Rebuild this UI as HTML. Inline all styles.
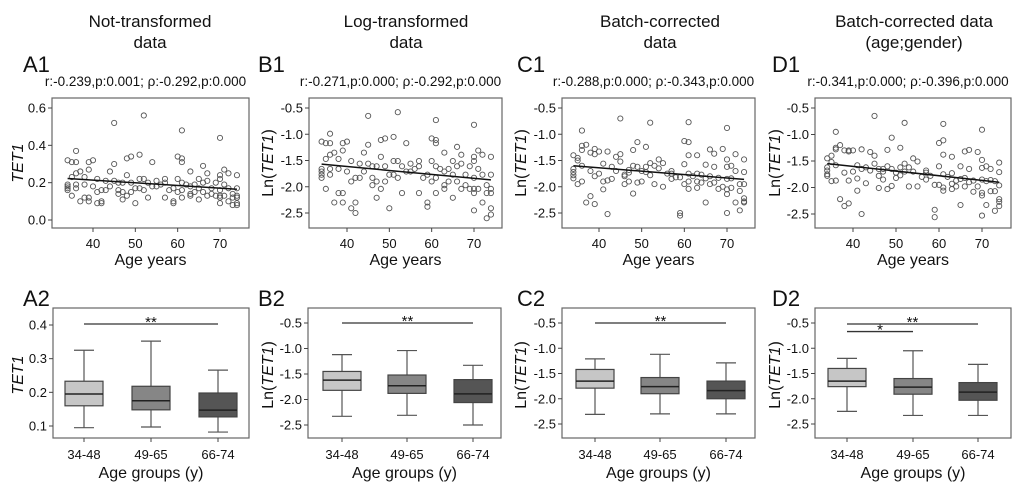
<!DOCTYPE html>
<html><head><meta charset="utf-8"><style>
body{margin:0;background:#fff;}
svg{display:block;font-family:"Liberation Sans",Arial,sans-serif;}
</style></head><body>
<svg id="fig" width="1020" height="495" viewBox="0 0 1020 495">
<g font-size="17" fill="#111" text-anchor="middle">
<text x="150" y="27">Not-transformed</text>
<text x="150" y="48">data</text>
<text x="406" y="27">Log-transformed</text>
<text x="406" y="48">data</text>
<text x="660" y="27">Batch-corrected</text>
<text x="660" y="48">data</text>
<text x="914" y="27">Batch-corrected data</text>
<text x="914" y="48">(age;gender)</text>
</g>
</svg>
<script>
const ages=[34,34,34,34,34,35,35,35,36,36,36,36,36,37,37,38,38,38,39,39,39,39,40,40,41,41,41,42,42,42,43,43,44,44,45,45,45,46,46,46,47,47,47,48,48,48,49,49,49,50,50,51,51,51,52,52,52,53,53,54,54,55,55,56,57,57,57,58,59,59,59,60,60,60,61,61,61,61,61,61,62,63,63,63,63,64,64,65,65,65,66,66,66,67,67,67,68,68,69,69,70,70,70,70,70,70,70,71,71,71,72,72,72,73,73,73,74,74,74,74,74,74];
const valsA=[.32,.18,.17,.16,.19,.31,.23,.13,.37,.31,.25,.19,.17,.26,.10,.23,.19,.12,.31,.27,.12,.10,.32,.18,.22,.15,.09,.16,.10,.09,.21,.16,.26,.18,.52,.30,.21,.20,.16,.14,.20,.15,.11,.33,.24,.13,.34,.20,.15,.17,.09,.35,.22,.17,.56,.22,.16,.20,.12,.31,.18,.21,.18,.19,.22,.20,.12,.16,.17,.10,.09,.34,.22,.15,.48,.33,.31,.20,.16,.12,.19,.26,.18,.14,.13,.19,.15,.22,.17,.11,.29,.20,.15,.25,.21,.13,.17,.14,.20,.13,.44,.24,.22,.16,.13,.12,.09,.27,.19,.13,.25,.17,.10,.14,.08,.12,.24,.17,.13,.12,.08,.09];
const valsB=[-1.14,-1.71,-1.77,-1.83,-1.66,-1.17,-1.47,-2.04,-0.99,-1.17,-1.39,-1.66,-1.77,-1.35,-2.30,-1.47,-1.66,-2.12,-1.17,-1.31,-2.12,-2.30,-1.14,-1.71,-1.51,-1.90,-2.41,-1.83,-2.30,-2.50,-1.56,-1.83,-1.35,-1.71,-0.65,-1.20,-1.56,-1.61,-1.83,-1.97,-1.61,-1.90,-2.21,-1.11,-1.43,-2.04,-1.08,-1.61,-1.90,-1.77,-2.41,-1.05,-1.51,-1.77,-0.58,-1.51,-1.83,-1.61,-2.12,-1.17,-1.71,-1.56,-1.71,-1.66,-1.51,-1.61,-2.12,-1.83,-1.77,-2.30,-2.38,-1.08,-1.51,-1.90,-0.73,-1.11,-1.17,-1.61,-1.83,-2.12,-1.66,-1.35,-1.71,-1.97,-2.04,-1.66,-1.90,-1.51,-1.77,-2.21,-1.24,-1.61,-1.90,-1.39,-1.56,-2.04,-1.77,-1.97,-1.61,-2.04,-0.82,-1.43,-1.51,-1.83,-2.04,-2.12,-2.45,-1.31,-1.66,-2.04,-1.39,-1.77,-2.30,-1.97,-2.60,-2.12,-1.43,-1.77,-2.04,-2.12,-2.53,-2.41];
const valsC=[-1.40,-1.72,-1.78,-1.84,-1.66,-1.45,-1.50,-1.95,-0.93,-1.22,-1.30,-1.60,-1.90,-1.20,-2.30,-1.35,-1.70,-2.18,-1.28,-1.38,-2.33,-1.80,-1.33,-1.75,-1.56,-1.90,-2.05,-1.33,-1.88,-2.52,-1.62,-1.85,-1.43,-1.70,-0.70,-1.38,-1.52,-1.80,-1.95,-1.77,-1.68,-1.90,-1.73,-1.30,-1.60,-2.13,-1.15,-1.62,-1.92,-1.70,-1.90,-1.24,-1.62,-1.72,-0.78,-1.55,-1.78,-1.60,-1.95,-1.48,-1.65,-1.55,-2.00,-1.75,-1.75,-1.85,-1.70,-1.82,-1.82,-2.50,-2.55,-1.13,-1.57,-1.95,-0.77,-1.15,-1.40,-1.75,-1.90,-2.04,-1.80,-1.40,-1.75,-1.90,-2.02,-1.77,-1.92,-1.58,-1.84,-2.30,-1.29,-1.80,-1.95,-1.37,-1.62,-1.92,-1.83,-2.04,-1.28,-2.00,-0.88,-1.48,-1.62,-1.85,-2.05,-2.14,-2.50,-1.60,-1.84,-2.02,-1.38,-1.70,-2.30,-1.95,-2.45,-2.08,-1.48,-1.72,-1.95,-2.22,-2.30,-2.28];
const valsD=[-1.45,-1.68,-1.75,-1.78,-1.62,-1.40,-1.52,-1.88,-0.95,-1.25,-1.28,-1.58,-1.87,-1.20,-2.22,-1.30,-1.72,-2.35,-1.30,-1.32,-2.30,-1.87,-1.30,-1.70,-1.58,-1.83,-2.06,-1.28,-1.65,-2.50,-1.62,-1.92,-1.33,-1.68,-0.65,-1.40,-1.55,-1.78,-2.01,-1.65,-1.65,-1.85,-1.70,-1.29,-1.60,-2.03,-1.06,-1.65,-1.97,-1.72,-1.82,-1.25,-1.62,-1.77,-0.78,-1.55,-1.70,-1.62,-1.98,-1.45,-1.70,-1.51,-1.98,-1.80,-1.72,-1.85,-1.68,-1.78,-1.95,-2.42,-2.56,-1.16,-1.60,-1.95,-0.80,-1.11,-1.38,-1.75,-2.00,-2.06,-1.80,-1.42,-1.73,-1.93,-2.03,-1.87,-1.98,-1.60,-1.84,-2.33,-1.32,-1.82,-1.98,-1.29,-1.65,-1.90,-1.87,-2.08,-1.33,-1.98,-0.91,-1.48,-1.63,-1.85,-2.10,-2.15,-2.53,-1.60,-1.88,-2.33,-1.65,-1.86,-2.07,-1.88,-2.44,-2.07,-1.53,-1.71,-1.96,-2.22,-2.27,-2.35];
const fitAges=[34,74];
const fitA=[0.222,0.165], fitB=[-1.57,-1.87], fitC=[-1.60,-1.86], fitD=[-1.55,-1.90];
const statsText=["r:-0.239,p:0.001; \u03c1:-0.292,p:0.000","r:-0.271,p:0.000; \u03c1:-0.292,p:0.000","r:-0.288,p:0.000; \u03c1:-0.343,p:0.000","r:-0.341,p:0.000; \u03c1:-0.396,p:0.000"];
const xTicks=[40,50,60,70];
const yTicksA=[0.0,0.2,0.4,0.6], yTicksLog=[-0.5,-1.0,-1.5,-2.0,-2.5], yTicksA2=[0.1,0.2,0.3,0.4];
const groups=['34-48','49-65','66-74'];
// each group: [min,q1,median,q3,max]
const boxA=[[.095,.16,.195,.233,.325],[.097,.148,.175,.218,.352],[.082,.127,.147,.198,.266]];
const boxB=[[-2.33,-1.82,-1.62,-1.45,-1.12],[-2.31,-1.88,-1.73,-1.52,-1.04],[-2.50,-2.06,-1.89,-1.61,-1.33]];
const boxC=[[-2.31,-1.79,-1.65,-1.42,-1.21],[-2.30,-1.90,-1.76,-1.58,-1.12],[-2.30,-2.00,-1.84,-1.65,-1.29]];
const boxD=[[-2.25,-1.76,-1.65,-1.40,-1.20],[-2.33,-1.91,-1.77,-1.60,-1.05],[-2.33,-2.03,-1.87,-1.68,-1.32]];
const sigA=[[0,2,0.403,'**']], sigB=[[0,2,-0.50,'**']], sigC=[[0,2,-0.50,'**']], sigD=[[0,2,-0.52,'**'],[0,1,-0.67,'*']];

const NS='http://www.w3.org/2000/svg';
const svg=document.getElementById('fig');
function el(tag,attrs,parent,txt){const e=document.createElementNS(NS,tag);for(const k in attrs)e.setAttribute(k,attrs[k]);if(txt!==undefined)e.textContent=txt;(parent||svg).appendChild(e);return e;}
function lin(d0,d1,r0,r1){return v=>r0+(v-d0)*(r1-r0)/(d1-d0);}
function fmt(v,dec){return v.toFixed(dec);}
function yTitle(g,x,cy,log){
  const t=el('text',{x:x,y:cy,'font-size':16,'text-anchor':'middle',transform:'rotate(-90 '+x+' '+cy+')',fill:'#111'},g);
  
  
  if(log){el('tspan',{},t,'Ln(');el('tspan',{'font-style':'italic'},t,'TET1');el('tspan',{},t,')');}
  else el('tspan',{'font-style':'italic'},t,'TET1');
}
const row1=[
 {id:'a1',lab:'A1',labx:23,left:52,right:249,x40:93,x70:220,yv0:0.6,yp0:108,yv1:0,yp1:220,ticks:yTicksA,dec:1,vals:valsA,fit:fitA,log:false,ytx:18},
 {id:'b1',lab:'B1',labx:258,left:309,right:502,x40:347,x70:474,yv0:-0.5,yp0:108,yv1:-2.5,yp1:213,ticks:yTicksLog,dec:1,vals:valsB,fit:fitB,log:true,ytx:268},
 {id:'c1',lab:'C1',labx:517,left:562,right:755,x40:599,x70:727,yv0:-0.5,yp0:108,yv1:-2.5,yp1:213,ticks:yTicksLog,dec:1,vals:valsC,fit:fitC,log:true,ytx:521},
 {id:'d1',lab:'D1',labx:772,left:815,right:1011,x40:853,x70:982,yv0:-0.5,yp0:108,yv1:-2.5,yp1:214,ticks:yTicksLog,dec:1,vals:valsD,fit:fitD,log:true,ytx:775}];
row1.forEach((p,i)=>{
  const g=el('g',{});
  
  
  const top=98,bot=228;
  const sx=lin(40,70,p.x40,p.x70), sy=lin(p.yv0,p.yv1,p.yp0,p.yp1);
  const L=el('text',{x:p.labx,y:72,'font-size':22,fill:'#111'},g,p.lab);
  
  
  const S=el('text',{x:(p.left+p.right)/2-5,y:86,'font-size':13.5,'text-anchor':'middle',fill:'#111'},g,statsText[i]);
  
  
  const fr=el('rect',{x:p.left,y:top,width:p.right-p.left,height:bot-top,fill:'none',stroke:'#666','stroke-width':1.2},g);
  
  
  p.ticks.forEach(v=>{const y=sy(v);el('line',{x1:p.left-4,x2:p.left,y1:y,y2:y,stroke:'#444'},g);
    const t=el('text',{x:p.left-6,y:y+4.5,'font-size':13,'text-anchor':'end',fill:'#111'},g,fmt(v,p.dec));
    
    });
  xTicks.forEach(v=>{const x=sx(v);el('line',{x1:x,x2:x,y1:bot,y2:bot+4,stroke:'#444'},g);
    const t=el('text',{x:x,y:bot+20,'font-size':13,'text-anchor':'middle',fill:'#111'},g,String(v));
    
    });
  const xt=el('text',{x:(p.left+p.right)/2,y:265,'font-size':16,'text-anchor':'middle',fill:'#111'},g,'Age years');
  
  
  yTitle(g,p.ytx+5,163,p.log);
  const n=Math.min(ages.length,p.vals.length);
  for(let k=0;k<n;k++){
    const c=el('circle',{cx:sx(ages[k]),cy:sy(p.vals[k]),r:2.6,fill:'none',stroke:'#555','stroke-width':0.9},g);
    
    
  }
  const fl=el('line',{x1:sx(fitAges[0]),y1:sy(p.fit[0]),x2:sx(fitAges[1]),y2:sy(p.fit[1]),stroke:'#111','stroke-width':1.5},g);
  
  
});
const fills=['#c6c6c6','#868686','#555555'];
const row2=[
 {id:'a2',lab:'A2',labx:23,left:53,right:249,gx:[84,151,218],yv0:0.4,yp0:325,yv1:0.1,yp1:426,ticks:yTicksA2,box:boxA,sig:sigA,log:false,ytx:18},
 {id:'b2',lab:'B2',labx:258,left:308,right:501,gx:[342,407,473],yv0:-0.5,yp0:323,yv1:-2.5,yp1:425,ticks:yTicksLog,box:boxB,sig:sigB,log:true,ytx:268},
 {id:'c2',lab:'C2',labx:517,left:562,right:755,gx:[595,660,726],yv0:-0.5,yp0:323,yv1:-2.5,yp1:424,ticks:yTicksLog,box:boxC,sig:sigC,log:true,ytx:521},
 {id:'d2',lab:'D2',labx:772,left:815,right:1011,gx:[847,913,978],yv0:-0.5,yp0:323,yv1:-2.5,yp1:424,ticks:yTicksLog,box:boxD,sig:sigD,log:true,ytx:775}];
row2.forEach(p=>{
  const g=el('g',{});
  
  
  const top=308,bot=438;
  const sy=lin(p.yv0,p.yv1,p.yp0,p.yp1);
  const L=el('text',{x:p.labx,y:306,'font-size':22,fill:'#111'},g,p.lab);
  
  
  const fr=el('rect',{x:p.left,y:top,width:p.right-p.left,height:bot-top,fill:'none',stroke:'#666','stroke-width':1.2},g);
  
  
  p.ticks.forEach(v=>{const y=sy(v);el('line',{x1:p.left-4,x2:p.left,y1:y,y2:y,stroke:'#444'},g);
    const t=el('text',{x:p.left-6,y:y+4.5,'font-size':13,'text-anchor':'end',fill:'#111'},g,fmt(v,1));
    
    });
  groups.forEach((gn,j)=>{const x=p.gx[j];el('line',{x1:x,x2:x,y1:bot,y2:bot+4,stroke:'#444'},g);
    const t=el('text',{x:x,y:bot+21,'font-size':13,'text-anchor':'middle',fill:'#111'},g,gn);
    
    
    const s=p.box[j], w=19, cw=10;
    const bg=el('g',{},g);
    
    
    el('line',{x1:x,x2:x,y1:sy(s[0]),y2:sy(s[4]),stroke:'#555','stroke-width':1.2},bg);
    el('line',{x1:x-cw,x2:x+cw,y1:sy(s[0]),y2:sy(s[0]),stroke:'#555','stroke-width':1.2},bg);
    el('line',{x1:x-cw,x2:x+cw,y1:sy(s[4]),y2:sy(s[4]),stroke:'#555','stroke-width':1.2},bg);
    el('rect',{x:x-w,y:sy(s[3]),width:2*w,height:sy(s[1])-sy(s[3]),fill:fills[j],stroke:'#444','stroke-width':1.2},bg);
    el('line',{x1:x-w,x2:x+w,y1:sy(s[2]),y2:sy(s[2]),stroke:'#222','stroke-width':1.5},bg);
  });
  p.sig.forEach(sg=>{const y=sy(sg[2]);
    const ln=el('line',{x1:p.gx[sg[0]],x2:p.gx[sg[1]],y1:y,y2:y,stroke:'#333','stroke-width':1.3},g);
    
    
    const t=el('text',{x:(p.gx[sg[0]]+p.gx[sg[1]])/2,y:y+3,'font-size':15,'text-anchor':'middle',fill:'#111'},g,sg[3]);
    
    });
  const xt=el('text',{x:(p.left+p.right)/2,y:478,'font-size':16,'text-anchor':'middle',fill:'#111'},g,'Age groups (y)');
  
  
  yTitle(g,p.ytx+5,375,p.log);
});
</script>
</body></html>
